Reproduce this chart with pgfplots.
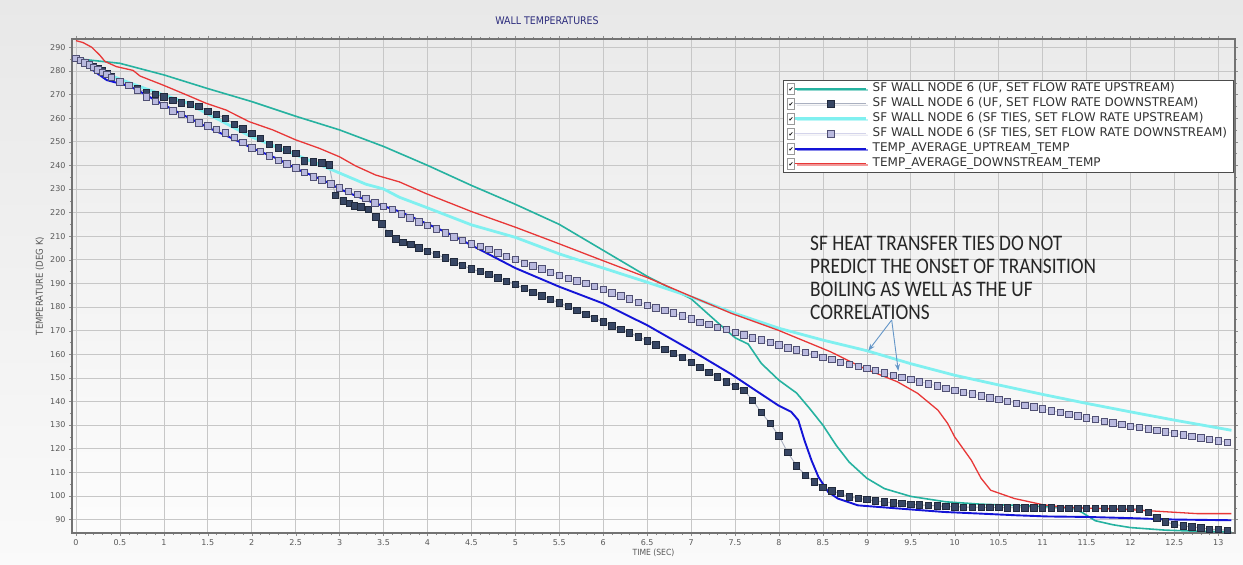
\documentclass[border=0pt]{standalone}
\usepackage{pgfplots}
\pgfplotsset{compat=1.18}
\usepackage{fontspec}
\setmainfont{DejaVu Sans}
\newfontfamily\annotfont{Carlito}
\newfontfamily\condfont{DejaVu Sans Condensed}
\usetikzlibrary{arrows.meta,shadows}
\definecolor{cteal}{RGB}{38,178,160}
\definecolor{ccyan}{RGB}{128,240,240}
\definecolor{cblue}{RGB}{20,20,215}
\definecolor{cred}{RGB}{232,55,55}
\definecolor{cnavy}{RGB}{55,70,100}
\definecolor{cnavyline}{RGB}{170,176,192}
\definecolor{clav}{RGB}{185,185,222}
\definecolor{clavedge}{RGB}{80,80,115}
\definecolor{clavline}{RGB}{212,212,235}
\definecolor{ctitle}{RGB}{45,45,125}
\definecolor{carrow}{RGB}{100,150,200}
\begin{document}
\begin{tikzpicture}
\shade[use as bounding box, top color=black!9, bottom color=black!2] (-72pt,-32pt) rectangle (1171pt,533pt);
\begin{axis}[
  scale only axis,
  width=1163pt, height=494pt,
  xmin=-0.045, xmax=13.19,
  ymin=84.3, ymax=293.5,
  xtick={0,0.5,1,1.5,2,2.5,3,3.5,4,4.5,5,5.5,6,6.5,7,7.5,8,8.5,9,9.5,10,10.5,11,11.5,12,12.5,13},
  ytick={90,100,110,120,130,140,150,160,170,180,190,200,210,220,230,240,250,260,270,280,290},
  minor x tick num=4, minor y tick num=1,
  tick align=outside, major tick length=3pt, minor tick length=2pt,
  tick style={black!45},
  grid=major,
  major grid style={black!22, line width=0.6pt},
  axis line style={black!55, line width=1.4pt},
  axis background/.style={shade, top color=black!8, bottom color=black!1},
  /pgf/number format/assume math mode=true,
  ticklabel style={font=\fontsize{8}{10}\selectfont, text=black!65},
  title={WALL TEMPERATURES},
  title style={at={(axis description cs:0.4085,1.0243)}, anchor=center, font=\condfont\fontsize{10.5}{12}\selectfont, text=ctitle},
  xlabel={TIME (SEC)},
  x label style={at={(axis description cs:0.5,-0.0405)}, anchor=center, font=\condfont\fontsize{8.5}{10}\selectfont, text=black!65},
  ylabel={TEMPERATURE (DEG K)},
  y label style={at={(axis description cs:-0.0275,0.5)}, anchor=center, font=\condfont\fontsize{9.5}{10}\selectfont, text=black!65},
  legend style={at={(axis description cs:0.999,0.917)}, anchor=north east,
    draw=black!70, fill=white, line width=0.6pt,
    drop shadow={shadow xshift=1.2pt, shadow yshift=-1.2pt, opacity=0.5},
    font=\fontsize{12}{14}\selectfont, text=black!80,
    nodes={inner ysep=2pt, text height=8.5pt, text depth=2.5pt},
    row sep=0pt, inner xsep=4.5pt, inner ysep=1pt},
  legend cell align=left,
  legend image code/.code={
    \node[draw=black!40, fill=white, minimum size=7pt, inner sep=0pt, line width=0.4pt, text=black, font=\fontsize{6}{6}\selectfont] at (-4pt,0pt) {✔};
    \draw[mark repeat=2,mark phase=2,#1] plot coordinates {(4pt,0pt) (39.5pt,0pt) (75pt,0pt)};
    \path (78pt,0pt);
  },
]
% SF wall node 6 (UF, upstream) - teal
\addplot[cteal, line width=1.6pt] coordinates {
(0.05,285) (0.5,283.2) (1.0,278.3) (1.5,272.5) (2.0,267) (2.5,260.8) (3.0,255) (3.5,248) (4.0,240) (4.5,231.5) (5.0,223.5) (5.5,215) (6.0,204) (6.5,193) (7.0,183.5) (7.3,173.5) (7.5,167) (7.65,164.3) (7.8,156.1) (8.0,149) (8.2,143.6) (8.35,137) (8.5,130) (8.65,121.5) (8.8,114.3) (9.0,107.5) (9.2,103.1) (9.5,99.8) (9.9,97.5) (10.3,96.5) (10.7,96) (11.0,95.5) (11.35,94.7) (11.45,93) (11.6,89.5) (11.8,87.8) (12.0,86.6) (12.4,85.5) (12.8,85) (13.15,84.8)
};
\addlegendentry{SF WALL NODE 6 (UF, SET FLOW RATE UPSTREAM)}
% SF wall node 6 (UF, downstream) - dark squares
\addplot[cnavyline, line width=0.9pt, mark=square*, mark size=3.2pt, mark options={fill=cnavy, draw=cnavy!60!black, line width=0.6pt}] coordinates {
(0,285.3) (0.05,284.5) (0.1,283.6) (0.15,282.8) (0.2,282) (0.25,281) (0.3,280) (0.35,279) (0.4,277.5) (0.5,275.5) (0.6,274) (0.7,272.5) (0.8,271) (0.9,270) (1.0,269) (1.1,267.5) (1.2,266.5) (1.3,265.8) (1.4,265) (1.5,263) (1.6,261.5) (1.7,260) (1.8,257.5) (1.9,255.5) (2.0,253.5) (2.1,251.5) (2.2,249) (2.3,247.5) (2.4,246.5) (2.5,245) (2.6,242) (2.7,241.5) (2.8,241) (2.88,240.3) (2.95,227.3) (3.04,225) (3.11,223.9) (3.17,222.8) (3.24,222.5) (3.33,221.4) (3.41,218.2) (3.48,215.2) (3.56,211.2) (3.64,208.9) (3.72,207.5) (3.81,206.5) (3.9,205) (4.0,203.5) (4.1,202.3) (4.2,200.8) (4.3,199.2) (4.4,197.6) (4.5,196.1) (4.6,195) (4.7,193.8) (4.8,192.4) (4.9,191) (5.0,189.5) (5.1,187.9) (5.2,186.3) (5.3,184.7) (5.4,183.2) (5.5,181.8) (5.6,180.2) (5.7,178.7) (5.8,177) (5.9,175.3) (6.0,173.7) (6.1,172) (6.2,170.5) (6.3,169.1) (6.4,167.4) (6.5,165.7) (6.6,164) (6.7,162.2) (6.8,160.4) (6.9,158.6) (7.0,156.5) (7.1,154.4) (7.2,152.4) (7.3,150.4) (7.4,148.4) (7.5,146.4) (7.6,144.8) (7.7,140.6) (7.8,135.3) (7.9,130.7) (8.0,125.4) (8.1,118.4) (8.2,112.8) (8.3,108.8) (8.4,106) (8.5,103.6) (8.6,102.2) (8.7,101) (8.8,99.6) (8.9,98.9) (9.0,98.5) (9.1,97.9) (9.2,97.5) (9.3,97.1) (9.4,96.8) (9.5,96.5) (9.6,96.2) (9.7,96) (9.8,95.8) (9.9,95.6) (10.0,95.4) (10.1,95.3) (10.2,95.2) (10.3,95.2) (10.4,95.1) (10.5,95.1) (10.6,95) (10.7,95) (10.8,95) (10.9,94.9) (11.0,94.9) (11.1,94.9) (11.2,94.8) (11.3,94.8) (11.4,94.8) (11.5,94.8) (11.6,94.7) (11.7,94.7) (11.8,94.7) (11.9,94.7) (12.0,94.7) (12.1,94.6) (12.2,93) (12.3,90.8) (12.4,89) (12.5,88) (12.6,87.3) (12.7,86.9) (12.8,86.5) (12.9,85.9) (13.0,85.8) (13.1,85.5)
};
\addlegendentry{SF WALL NODE 6 (UF, SET FLOW RATE DOWNSTREAM)}
% SF wall node 6 (SF ties, upstream) - light cyan
\addplot[ccyan, line width=2.8pt] coordinates {
(0.05,285) (0.3,279.5) (0.5,276.5) (0.73,273.3) (1.0,269.8) (1.26,266.5) (1.5,261.8) (2.0,252) (2.5,244.5) (2.92,238) (3.3,232) (3.5,230) (3.68,226.5) (4.0,222) (4.5,214.8) (5.0,209.5) (5.5,202.5) (6.0,196.5) (6.5,190.5) (7.0,184.3) (7.5,177.3) (8.0,171) (8.5,166) (9.0,161.5) (9.5,156) (10.0,151.1) (10.5,147) (11.0,143) (11.5,139.2) (12.0,135.6) (12.5,132.1) (13.15,127.8)
};
\addlegendentry{SF WALL NODE 6 (SF TIES, SET FLOW RATE UPSTREAM)}
% SF wall node 6 (SF ties, downstream) - lavender squares
\addplot[clavline, line width=0.8pt, mark=square*, mark size=3.2pt, mark options={fill=clav, draw=clavedge, line width=0.6pt}] coordinates {
(0,285.3) (0.05,284.5) (0.1,283.5) (0.15,282.5) (0.2,281.5) (0.25,280.5) (0.3,279.5) (0.35,278.5) (0.4,277.3) (0.5,275.4) (0.6,273.8) (0.7,271.7) (0.8,269.1) (0.9,267.2) (1.0,265.3) (1.1,263.1) (1.2,261.6) (1.3,259.7) (1.4,258) (1.5,256.7) (1.6,255.3) (1.7,253.8) (1.8,251.8) (1.9,249.8) (2.0,247.5) (2.1,245.9) (2.2,244) (2.3,242.2) (2.4,240.7) (2.5,238.9) (2.6,237) (2.7,235.2) (2.8,233.8) (2.9,232.1) (3.0,230.5) (3.1,229) (3.2,227.7) (3.3,226) (3.4,224.1) (3.5,222.6) (3.6,221.3) (3.7,219.4) (3.8,217.7) (3.9,216.1) (4.0,214.6) (4.1,213.2) (4.2,211.5) (4.3,209.8) (4.4,208.3) (4.5,206.8) (4.6,205.6) (4.7,204.4) (4.8,203) (4.9,201.6) (5.0,200.1) (5.1,198.5) (5.2,197.4) (5.3,196.2) (5.4,194.8) (5.5,193.4) (5.6,192.2) (5.7,191.1) (5.8,190) (5.9,188.8) (6.0,187.4) (6.1,186) (6.2,184.8) (6.3,183.5) (6.4,182.1) (6.5,180.8) (6.6,179.7) (6.7,178.6) (6.8,177.5) (6.9,176.2) (7.0,175) (7.1,173.6) (7.2,172.6) (7.3,171.5) (7.4,170.5) (7.5,169.4) (7.6,168.2) (7.7,167) (7.8,166.1) (7.9,165.1) (8.0,164) (8.1,162.8) (8.2,161.8) (8.3,160.9) (8.4,159.9) (8.5,158.8) (8.6,157.8) (8.7,156.7) (8.8,155.8) (8.9,154.9) (9.0,154) (9.1,153.1) (9.2,152.2) (9.3,151.2) (9.4,150.3) (9.5,149.4) (9.6,148.4) (9.7,147.5) (9.8,146.6) (9.9,145.7) (10.0,144.8) (10.1,144) (10.2,143.2) (10.3,142.4) (10.4,141.6) (10.5,140.8) (10.6,140.1) (10.7,139.3) (10.8,138.5) (10.9,137.7) (11.0,136.9) (11.1,136.1) (11.2,135.4) (11.3,134.6) (11.4,133.9) (11.5,133.1) (11.6,132.4) (11.7,131.7) (11.8,131) (11.9,130.3) (12.0,129.6) (12.1,129) (12.2,128.4) (12.3,127.7) (12.4,127.1) (12.5,126.5) (12.6,125.9) (12.7,125.3) (12.8,124.6) (12.9,124) (13.0,123.4) (13.1,122.8)
};
\addlegendentry{SF WALL NODE 6 (SF TIES, SET FLOW RATE DOWNSTREAM)}
% average upstream temp - blue
\addplot[cblue, line width=1.9pt] coordinates {
(0,285.3) (0.12,282.5) (0.24,279) (0.35,276.1) (0.46,275) (0.61,273.5) (0.73,271.2) (1.0,265.6) (1.26,260.6) (1.52,255.7) (1.78,251.4) (2.01,247.2) (2.28,243) (2.54,238) (2.81,233.8) (3.03,229.5) (3.3,225.3) (3.68,220.5) (4.24,211.2) (5.0,196.5) (5.5,188.6) (6.0,181.5) (6.5,172.3) (7.0,161.7) (7.46,151.5) (7.73,144.8) (7.99,138.4) (8.14,135.6) (8.22,132.1) (8.29,123.6) (8.37,115.1) (8.45,108) (8.56,101.7) (8.67,98.9) (8.9,96) (9.35,94.7) (9.88,93.2) (10.3,92.5) (10.7,91.8) (11.06,91.3) (11.5,91.1) (12.0,90.6) (12.5,90) (13.15,89.7)
};
\addlegendentry{TEMP\_AVERAGE\_UPTREAM\_TEMP}
% average downstream temp - red
\addplot[cred, line width=1.3pt] coordinates {
(0,292.8) (0.08,292) (0.18,290) (0.27,286.7) (0.33,284) (0.46,281.8) (0.65,280.2) (0.73,277.8) (0.99,274) (1.26,269.8) (1.48,266.3) (1.71,263.4) (1.97,258.5) (2.24,255) (2.5,250.8) (2.77,247.2) (3.0,243.6) (3.18,239.8) (3.41,235.9) (3.68,233) (3.98,228.1) (4.51,220.3) (5.0,213.8) (5.49,206.9) (5.95,200.3) (6.5,192.5) (6.97,185) (7.46,177.3) (7.99,170.2) (8.59,161) (8.97,154) (9.35,148.3) (9.58,143.4) (9.81,136.3) (9.92,130.7) (10.0,125) (10.19,115.1) (10.3,107.5) (10.41,102.4) (10.68,98.9) (11.0,96.3) (11.25,95.2) (11.62,94.7) (12.0,94.2) (12.4,93.3) (12.76,92.5) (13.15,92.5)
};
\addlegendentry{TEMP\_AVERAGE\_DOWNSTREAM\_TEMP}
\end{axis}
% annotation
\begin{scope}[font=\annotfont\fontsize{19.3}{22}\selectfont, text=black!85]
\node[anchor=base west, inner sep=0pt, yscale=1.15] at (738pt,282pt) {SF HEAT TRANSFER TIES DO NOT};
\node[anchor=base west, inner sep=0pt, yscale=1.15] at (738pt,259pt) {PREDICT THE ONSET OF TRANSITION};
\node[anchor=base west, inner sep=0pt, yscale=1.15] at (738pt,236pt) {BOILING AS WELL AS THE UF};
\node[anchor=base west, inner sep=0pt, yscale=1.15] at (738pt,213pt) {CORRELATIONS};
\end{scope}
\draw[carrow, line width=0.9pt, -{Stealth[length=7pt,width=5pt]}] (819.7pt,213pt) -- (796.3pt,182.3pt);
\draw[carrow, line width=0.9pt, -{Stealth[length=7pt,width=5pt]}] (819.7pt,213pt) -- (826.3pt,162pt);
\end{tikzpicture}
\end{document}
